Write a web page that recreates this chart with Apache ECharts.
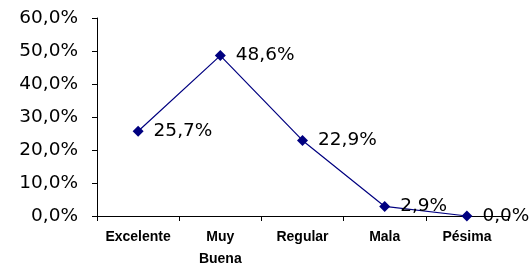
<!DOCTYPE html>
<html><head><meta charset="utf-8">
<script src="https://cdn.jsdelivr.net/npm/echarts@6/dist/echarts.min.js"></script>
<style>html,body{margin:0;padding:0;background:#fff}#c{width:531px;height:270px}</style>
</head><body><div id="c"></div>
<script>
const categories = ['Excelente', 'Muy\nBuena', 'Regular', 'Mala', 'Pésima'];
const values = [25.7, 48.6, 22.9, 2.9, 0.0];
const yTicks = [0, 10, 20, 30, 40, 50, 60];
const fmt = v => v.toFixed(1).replace('.', ',') + '%';
const chart = echarts.init(document.getElementById('c'), null, {renderer: 'canvas'});
chart.setOption({
  animation: false,
  grid: {left: 97, top: 18, width: 411, height: 200},
  xAxis: {
    type: 'category', data: categories, boundaryGap: true,
    axisLine: {lineStyle: {color: '#000', width: 1}},
    axisTick: {show: true, length: 5, inside: false, alignWithLabel: false, lineStyle: {color: '#000'}},
    axisLabel: {color: '#000', fontFamily: 'Liberation Sans', fontWeight: 'bold', fontSize: 14, lineHeight: 22, margin: 10, interval: 0}
  },
  yAxis: {
    type: 'value', min: yTicks[0], max: yTicks[yTicks.length - 1], interval: 10,
    splitLine: {show: false},
    axisLine: {show: true, lineStyle: {color: '#000', width: 1}},
    axisTick: {show: true, length: 5, lineStyle: {color: '#000'}},
    axisLabel: {color: '#000', fontFamily: 'DejaVu Sans', fontSize: 18.5, margin: 19, formatter: v => fmt(v)}
  },
  series: [{
    type: 'line', data: values,
    symbol: 'diamond', symbolSize: 11,
    lineStyle: {color: '#000080', width: 1.2},
    itemStyle: {color: '#000080'},
    label: {show: true, position: 'right', distance: 10, color: '#000', fontFamily: 'DejaVu Sans', fontSize: 18.5, formatter: p => fmt(p.value)}
  }]
});
</script></body></html>
